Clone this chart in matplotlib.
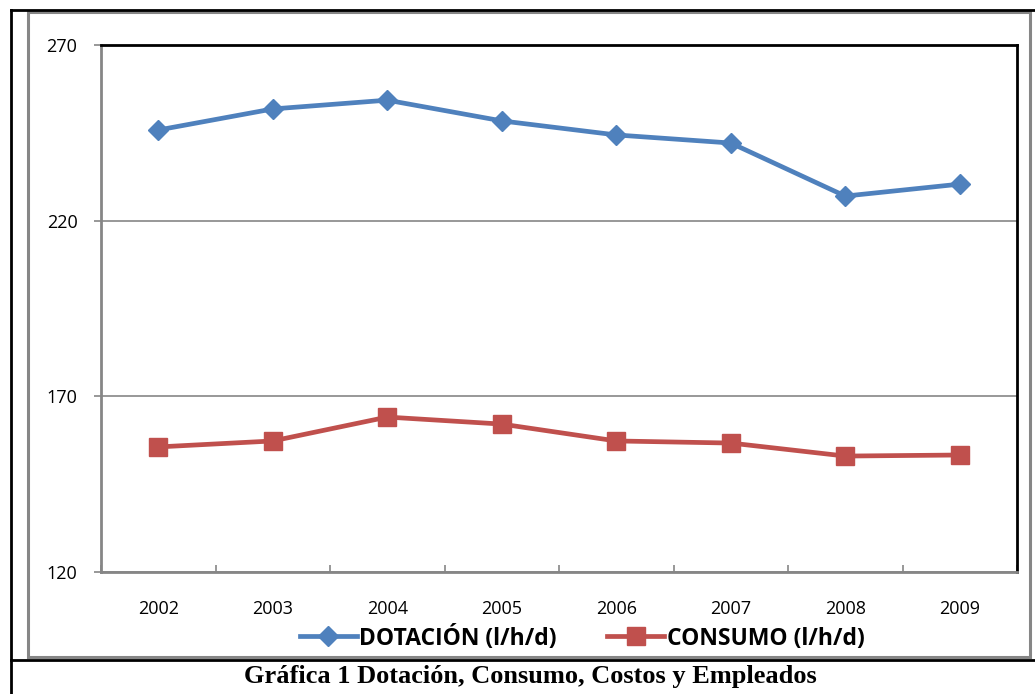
import matplotlib
matplotlib.use('Agg')
from matplotlib import pyplot as plt
from matplotlib.lines import Line2D
from matplotlib.patches import Rectangle

years = ['2002', '2003', '2004', '2005', '2006', '2007', '2008', '2009']
dotacion = [245.8, 251.8, 254.3, 248.4, 244.4, 242.1, 227.0, 230.4]
consumo = [155.6, 157.3, 164.1, 162.1, 157.3, 156.7, 153.0, 153.3]
yticks = [120, 170, 220, 270]

BLUE = '#4F81BD'
RED = '#C0504D'
GRAY = '#868686'

W, H = 1035, 694
fig = plt.figure(figsize=(W / 100, H / 100), dpi=100)


def fx(px):
    return px / W


def fy(py):
    return 1 - py / H


# outer frame pieces (document table + chart border)
fig.add_artist(Line2D([fx(11), fx(11)], [fy(10), 0], color='k', lw=2))
fig.add_artist(Line2D([fx(11), 1], [fy(10), fy(10)], color='k', lw=2))
fig.add_artist(Line2D([fx(11), 1], [fy(660), fy(660)], color='k', lw=2))
fig.add_artist(Rectangle((fx(28), fy(657)), fx(1030) - fx(28), fy(12) - fy(657),
                         fill=False, edgecolor=GRAY, lw=2.2))

ax = fig.add_axes([fx(101), fy(572), fx(1017) - fx(101), fy(45) - fy(572)])
x = list(range(len(years)))

ax.plot(x, dotacion, color=BLUE, lw=3.4, marker='D', ms=10,
        label='DOTACIÓN (l/h/d)', zorder=3)
ax.plot(x, consumo, color=RED, lw=3.4, marker='s', ms=12.5,
        label='CONSUMO (l/h/d)', zorder=3)

ax.set_xlim(-0.5, len(years) - 0.5)
ax.set_ylim(120, 270)
ax.set_yticks(yticks)
ax.set_yticklabels([str(v) for v in yticks])
ax.set_xticks(x)
ax.set_xticklabels(years)
ax.set_xticks([i - 0.5 for i in range(len(years) + 1)], minor=True)

ax.grid(axis='y', color=GRAY, lw=1.2)
ax.tick_params(axis='x', which='major', length=0, pad=20, labelsize=13)
ax.tick_params(axis='x', which='minor', length=5, color=GRAY, width=1.2, direction='in')
ax.tick_params(axis='y', length=5, color=GRAY, width=1.2, pad=12, labelsize=13)
for lab in ax.get_xticklabels() + ax.get_yticklabels():
    lab.set_fontfamily('Open Sans')

ax.spines['left'].set_color(GRAY)
ax.spines['bottom'].set_color(GRAY)
ax.spines['left'].set_linewidth(2)
ax.spines['bottom'].set_linewidth(2)
ax.spines['top'].set_color('k')
ax.spines['right'].set_color('k')
ax.spines['top'].set_linewidth(2)
ax.spines['right'].set_linewidth(2)

leg = fig.legend(loc='center', bbox_to_anchor=(fx(582), fy(638)), ncol=2,
                 frameon=False, handlelength=2.5, columnspacing=2.2,
                 handletextpad=0.1,
                 prop={'family': 'Open Sans', 'weight': 'bold', 'size': 16.5})

fig.text(fx(530), fy(677), 'Gráfica 1 Dotación, Consumo, Costos y Empleados',
         ha='center', va='center', family='Liberation Serif', weight='bold',
         fontsize=19)

plt.savefig('out.png', dpi=100)
